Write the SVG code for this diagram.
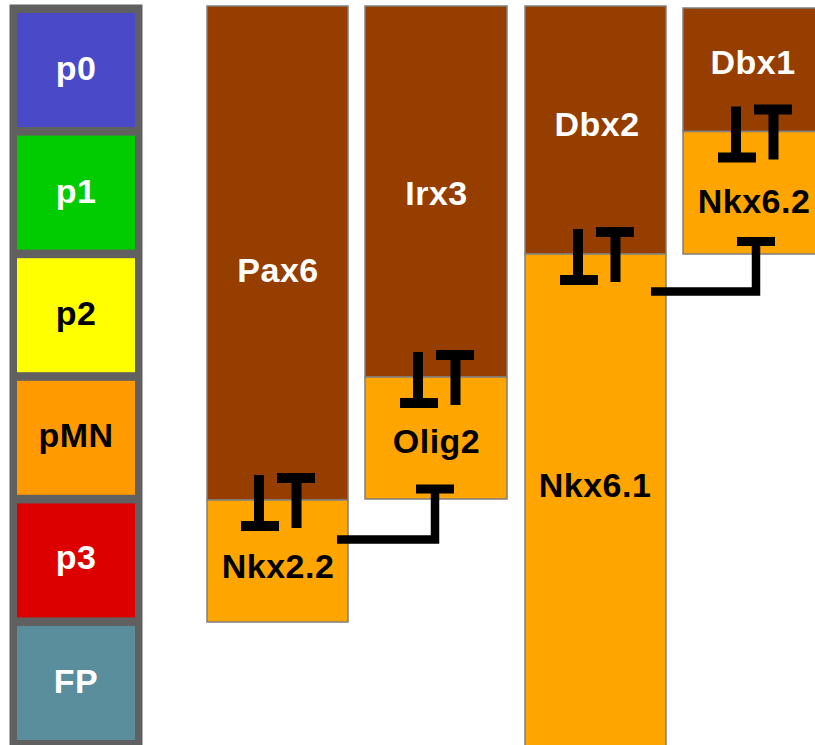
<svg xmlns="http://www.w3.org/2000/svg" xmlns:xlink="http://www.w3.org/1999/xlink" width="815" height="745" viewBox="0 0 815 745">
<style>
.lbl{font-family:"Liberation Sans",Arial,sans-serif;font-weight:bold;font-size:34px;letter-spacing:0.5px;text-anchor:middle}
.w{fill:#ffffff}
.k{fill:#000000}
.brown{fill:#953e00;stroke:#7f7f7f;stroke-width:1.5}
.orange{fill:#ffa500;stroke:#7f7f7f;stroke-width:1.5}
.dom{stroke:none}
.rep{fill:none;stroke:#000;stroke-width:10;stroke-linecap:butt}
.conn{fill:none;stroke:#000;stroke-width:8.5;stroke-linejoin:miter;marker-end:url(#tbar)}
</style>
<defs>
<marker id="tbar" markerUnits="userSpaceOnUse" viewBox="-10 -20 20 40" markerWidth="20" markerHeight="40" refX="0" refY="0" orient="auto" overflow="visible">
<path d="M0,-19 V19" stroke="#000" stroke-width="9" fill="none"/>
</marker>
<g id="mutual">
<path class="rep" d="M52,-25 V31 M34,26 H72 M70,-22 H108 M89.5,-27 V28"/>
</g>
</defs>

<g id="domains">
<rect x="9.5" y="4.5" width="133" height="745" fill="#606060"/>
<g id="p0"><rect class="dom" x="17" y="13" width="118" height="114" fill="#4a4ac8"/><text class="lbl w" x="76" y="80">p0</text></g>
<g id="p1"><rect class="dom" x="17" y="135.6" width="118" height="114" fill="#00cc00"/><text class="lbl w" x="76" y="202.6">p1</text></g>
<g id="p2"><rect class="dom" x="17" y="258.2" width="118" height="114" fill="#ffff00"/><text class="lbl k" x="76" y="325">p2</text></g>
<g id="pMN"><rect class="dom" x="17" y="380.8" width="118" height="114" fill="#ff9a00"/><text class="lbl k" x="76" y="447">pMN</text></g>
<g id="p3"><rect class="dom" x="17" y="503.4" width="118" height="114" fill="#dd0000"/><text class="lbl w" x="76" y="569">p3</text></g>
<g id="FP"><rect class="dom" x="17" y="626" width="118" height="114" fill="#5a8e9c"/><text class="lbl w" x="76" y="692.7">FP</text></g>
</g>

<g id="Pax6"><rect class="brown" x="207" y="6" width="141" height="494"/><text class="lbl w" x="278" y="282">Pax6</text></g>
<g id="Nkx2.2"><rect class="orange" x="207" y="500" width="141" height="122"/><text class="lbl k" x="278" y="578">Nkx2.2</text></g>
<g id="Irx3"><rect class="brown" x="365" y="6" width="142" height="371"/><text class="lbl w" x="436.5" y="205">Irx3</text></g>
<g id="Olig2"><rect class="orange" x="365" y="377" width="142" height="122"/><text class="lbl k" x="436.5" y="453">Olig2</text></g>
<g id="Dbx2"><rect class="brown" x="525" y="6" width="141" height="248"/><text class="lbl w" x="597" y="136">Dbx2</text></g>
<g id="Nkx6.1"><rect class="orange" x="525" y="254" width="141" height="500"/><text class="lbl k" x="595" y="497">Nkx6.1</text></g>
<g id="Dbx1"><rect class="brown" x="683" y="8" width="140" height="123.5"/><text class="lbl w" x="753" y="73.5">Dbx1</text></g>
<g id="Nkx6.2"><rect class="orange" x="683" y="131.5" width="140" height="122.5"/><text class="lbl k" x="754" y="213">Nkx6.2</text></g>

<g id="connectors">
<use xlink:href="#mutual" href="#mutual" transform="translate(207,500)"/>
<use xlink:href="#mutual" href="#mutual" transform="translate(366,377)"/>
<use xlink:href="#mutual" href="#mutual" transform="translate(526,254)"/>
<use xlink:href="#mutual" href="#mutual" transform="translate(684,131.5)"/>
<path class="conn" d="M337,539.5 H435 V489"/>
<path class="conn" d="M651,291.5 H756 V241.5"/>
</g>
</svg>
